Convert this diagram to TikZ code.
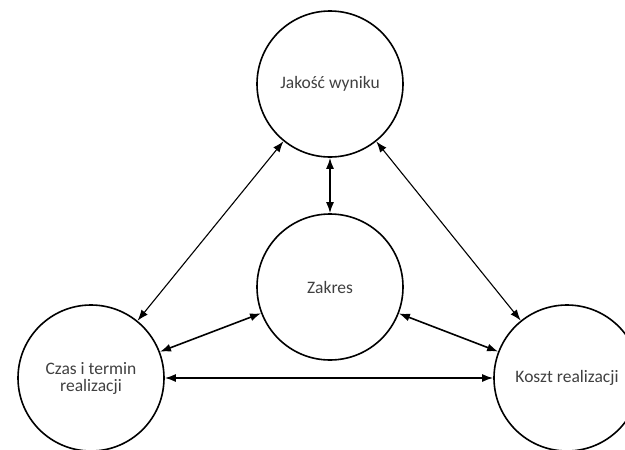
\documentclass[tikz,border=0pt]{standalone}
\usepackage{fontspec}
\setmainfont{Carlito}
\usetikzlibrary {arrows.meta,positioning}

\begin{document}
\begin{tikzpicture}[x=1pt,y=-1pt]
      \clip (0,0) rectangle (625,450);
      \fill[white] (0,0) rectangle (625,450);
      \begin{scope}[every node/.style={circle,draw,line width=1.6pt,minimum size=146pt,inner sep=0pt,
          align=center,text=black!75,font=\fontsize{17.5}{17}\selectfont}]
        \node (J) at (330,84) {Jakość wyniku};
        \node (Z) at (330,287) {Zakres};
        \node (C) at (91,378) {Czas i termin\\realizacji};
        \node (K) at (567,378) {Koszt realizacji};
      \end{scope}
      \begin{scope}
        [every edge/.style={draw= black, line width=1.6pt, {Latex[length=11pt,width=8pt]}-{Latex[length=11pt,width=8pt]}}]
        \path (J) edge (Z);
        \path (J) edge[line width=1.1pt] (C);
        \path (J) edge[line width=1.1pt] (K);
        \path (C) edge (Z);
        \path (K) edge (Z);
        \path (C) edge (K);
      \end{scope}
    \end{tikzpicture}
\end{document}
